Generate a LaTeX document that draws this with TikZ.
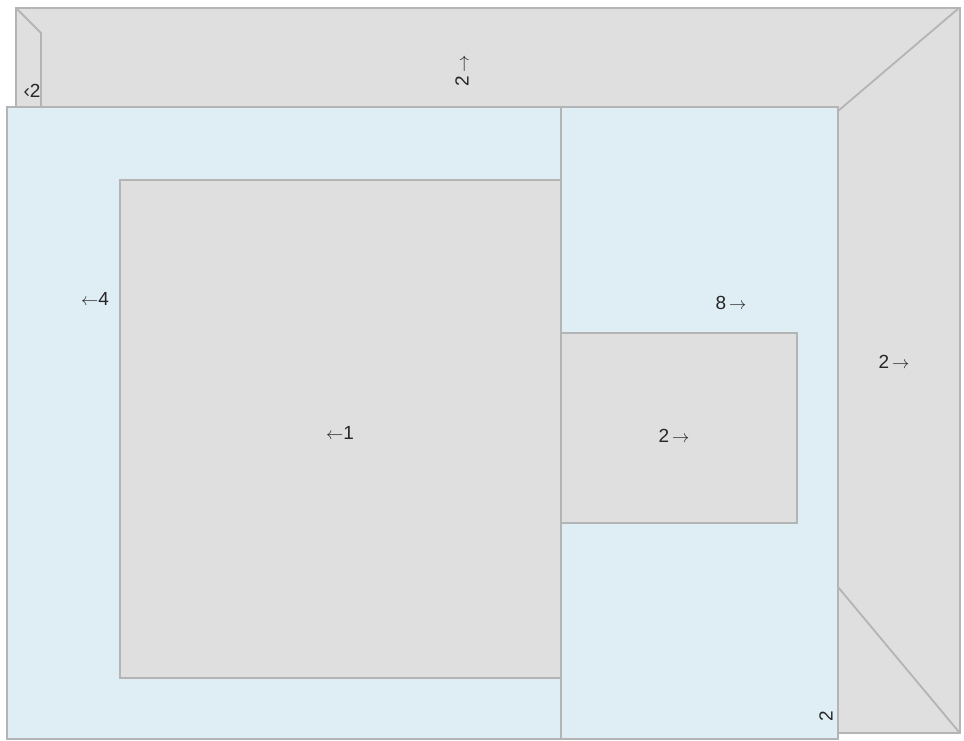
\documentclass[tikz,border=0pt]{standalone}
\usepackage{fontspec}
\setmainfont{Liberation Sans}
\definecolor{blueF}{RGB}{223,238,245}
\definecolor{grayF}{RGB}{223,223,223}
\definecolor{edgeC}{RGB}{180,180,180}
\newcommand{\ra}{\ensuremath{\rightarrow}}
\newcommand{\la}{\ensuremath{\leftarrow}}
\begin{document}
\begin{tikzpicture}[x=1pt,y=-1pt,
  wall/.style={draw=edgeC,line width=1.8pt,line join=miter},
  lbl/.style={font=\fontsize{19}{21}\selectfont,text=black!85,inner sep=1pt}]
\useasboundingbox (0,0) rectangle (964,740);
% outer grey frame
\fill[grayF] (16,8) rectangle (960,733);
\draw[wall] (16,8) rectangle (960,733);
\draw[wall] (16,8) -- (41,33) -- (41,107);
\draw[wall] (959,8) -- (838,111);
\draw[wall] (838,587) -- (959,732);
% blue floor
\fill[blueF] (7,107) rectangle (838,739);
\draw[wall] (7,107) rectangle (838,739);
\draw[wall] (561,107) -- (561,739);
% grey blocks
\fill[grayF] (120,180) rectangle (561,678);
\draw[wall] (561,180) -- (120,180) -- (120,678) -- (561,678);
\fill[grayF] (561,333) rectangle (797,523);
\draw[wall] (561,333) -- (797,333) -- (797,523) -- (561,523);
\draw[wall] (561,107) -- (561,739);
% labels
\node[lbl] (tl) at (32,91) {‹2};
\node[lbl,rotate=90] (top) at (462,71) {2\,\ra};
\node[lbl] (l4) at (95,299) {\la4};
\node[lbl] (l1) at (340,433) {\la1};
\node[lbl] (l8) at (731,303) {8\,\ra};
\node[lbl] (l2a) at (674,436) {2\,\ra};
\node[lbl] (l2b) at (894,362) {2\,\ra};
\node[lbl,rotate=90] (l2c) at (826,716) {2};
\end{tikzpicture}
\end{document}
